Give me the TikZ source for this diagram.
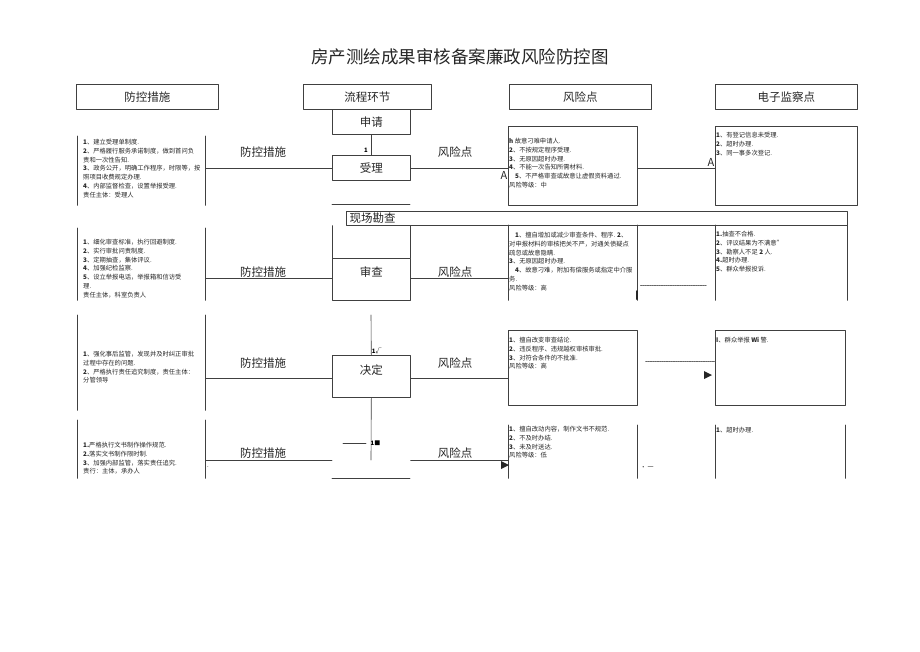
\documentclass[tikz,border=0pt]{standalone}
\usepackage{fontspec}
\setmainfont{Noto Sans CJK SC}
\begin{document}
\begin{tikzpicture}[x=1pt,y=-1pt,line join=round,line cap=round,>=stealth,
	kuang/.style={draw=black!75,line width=0.6pt,inner sep=0pt,anchor=north west},
	kong/.style={inner sep=0pt,anchor=north west},
	wenzi/.style={anchor=north west,align=left,inner sep=0pt,text=black!85,font=\fontsize{6.3}{8.8}\selectfont},
	biao/.style={font=\fontsize{11.5}{12}\selectfont,text=black!85},
	xian/.style={draw=black!75,line width=0.6pt},
	xu/.style={draw=black!60,line width=0.6pt,dash pattern=on 1.5pt off 0.8pt}]
	\useasboundingbox (0,0) rectangle (920,651);
	% title
	\node[font=\fontsize{17.5}{18}\selectfont,text=black!85] (title) at (460,57) {房产测绘成果审核备案廉政风险防控图};
	% header row
	\node[kuang,minimum width=142,minimum height=25] (hcs) at (76,84) {};
	\node[kuang,minimum width=128,minimum height=25] (hlc) at (303,84) {};
	\node[kuang,minimum width=142,minimum height=25] (hfx) at (509,84) {};
	\node[kuang,minimum width=142,minimum height=25] (hjc) at (715,84) {};
	\node[biao] at (hcs.center) {防控措施};
	\node[biao] at (hlc.center) {流程环节};
	\node[biao] at (hfx.center) {风险点};
	\node[biao] at (hjc.center) {电子监察点};
	% process column
	\node[kuang,minimum width=78,minimum height=25] (shenqing) at (332,109) {};
	\node[biao] at (shenqing.center) {申请};
	\node[kuang,minimum width=78,minimum height=25] (shouli) at (332,155) {};
	\node[biao] at (shouli.center) {受理};
	\draw[xian] (shenqing.south) -- (shouli.north) node[pos=0.75,left=0pt,font=\fontsize{6}{6}\bfseries\selectfont] {1};
	\coordinate (hx1) at (332,204);
	\coordinate (hx2) at (410,204);
	\draw[xian] (hx1) -- (hx2);
	\node[kuang,minimum width=501,minimum height=14] (kancha) at (346,211) {};
	\node[biao,anchor=west] at (kancha.west) {现场勘查};
	\node[kuang,minimum width=78,minimum height=42] (shencha) at (332,258) {};
	\node[biao] at ([yshift=7]shencha.center) {审查};
	\draw[xian] (shencha.north west) -- (shencha.north west |- kancha.south)
		(shencha.north east) -- (shencha.north east |- kancha.south);
	\coordinate (jd0) at (371,315);
	\node[kuang,minimum width=78,minimum height=42] (jueding) at (332,355) {};
	\node[biao] at ([yshift=6]jueding.center) {决定};
	\draw[xian] (jd0) -- (jueding.north) node[pos=0.9,right=-3pt,font=\fontsize{6}{6}\bfseries\selectfont] {1√};
	\coordinate (jd1) at (371,460);
	\draw[xian] (jueding.south) -- (jd1);
	\coordinate (dx1) at (343,443);
	\coordinate (dx2) at (366,443);
	\draw[xian] (dx1) -- (dx2) node[right=1pt,font=\fontsize{6}{6}\bfseries\selectfont] {1■};
	\coordinate (dd1) at (332,478);
	\coordinate (dd2) at (410,478);
	\draw[xian] (dd1) -- (dd2);
	% left column (measures)
	\node[kong,minimum width=128,minimum height=69] (cs1) at (77,136) {};
	\node[kong,minimum width=128,minimum height=72] (cs2) at (77,228) {};
	\node[kong,minimum width=128,minimum height=95] (cs3) at (77,315) {};
	\node[kong,minimum width=128,minimum height=58] (cs4) at (77,420) {};
	\foreach \b in {cs1,cs2,cs3,cs4}
		\draw[xian] (\b.north west) -- (\b.south west) (\b.north east) -- (\b.south east);
	\node[wenzi] (t1) at (83,139) {\textbf{1}、建立受理单制度.\\
		\textbf{2}、严格履行服务承诺制度，做到首问负\\
		责和一次性告知.\\
		\textbf{3}、政务公开，明确工作程序，时限等，按\\
		照项目收费规定办理.\\
		\textbf{4}、内部监督检查，设置举报受理.\\
		责任主体：受理人};
	\node[wenzi] (t2) at (83,239) {\textbf{1}、细化审查标准，执行回避制度.\\
		\textbf{2}、实行审批问责制度.\\
		\textbf{3}、定期抽查，集体评议.\\
		\textbf{4}、加强纪检监察.\\
		\textbf{5}、设立举报电话，举报箱和信访受\\
		理.\\
		责任主体，科室负责人};
	\node[wenzi] (t3) at (83,351) {\textbf{1}、强化事后监管，发现并及时纠正审批\\
		过程中存在的问题.\\
		\textbf{2}、严格执行责任追究制度，责任主体：\\
		分管领导};
	\node[wenzi] (t4) at (83,442) {\textbf{1.}严格执行文书制作操作规范.\\
		\textbf{2.}落实文书制作限时制.\\
		\textbf{3}、加强内部监管，落实责任追究.\\
		责行：主体，承办人};
	% risk column
	\node[kuang,minimum width=129,minimum height=79] (fx1) at (508,126) {};
	\node[kong,minimum width=129,minimum height=75] (fx2) at (508,225) {};
	\node[kuang,minimum width=129,minimum height=75] (fx3) at (508,330) {};
	\node[kong,minimum width=129,minimum height=53] (fx4) at (508,425) {};
	\foreach \b in {fx2,fx4}
		\draw[xian] (\b.north west) -- (\b.south west) (\b.north east) -- (\b.south east);
	\node[wenzi] (r1) at (509,138) {\textbf{h} 故意刁难申请人.\\
		\textbf{2}、不按规定程序受理.\\
		\textbf{3}、无原因超时办理.\\
		\textbf{4}、不能一次告知所需材料.\\
		\hspace*{6pt}\textbf{5}、不严格审查或故意让虚假资料通过.\\
		风险等级：中};
	\node[wenzi] (r2) at (509,232) {\hspace*{6pt}\textbf{1}、擅自增加或减少审查条件、程序. \textbf{2}、\\
		对申报材料的审核把关不严，对通关债疑点\\
		疏忽或故意隐瞒.\\
		\textbf{3}、无原因超时办理.\\
		\hspace*{6pt}\textbf{4}、故意刁难，附加有偿服务或指定中介服\\
		务.\\
		风险等级：高};
	\node[wenzi] (r3) at (509,337) {\textbf{1}、擅自改变审查结论.\\
		\textbf{2}、违反程序、违规越权审核审批.\\
		\textbf{3}、对符合条件的不批准.\\
		风险等级：高};
	\node[wenzi] (r4) at (509,426) {\textbf{1}、擅自改动内容，制作文书不规范.\\
		\textbf{2}、不及时办结.\\
		\textbf{3}、未及时送达.\\
		风险等级：低};
	% supervision column
	\node[kuang,minimum width=142,minimum height=79] (jc1) at (715,126) {};
	\node[kong,minimum width=132,minimum height=75] (jc2) at (715,225) {};
	\node[kuang,minimum width=130,minimum height=75] (jc3) at (715,330) {};
	\node[kong,minimum width=130,minimum height=53] (jc4) at (715,425) {};
	\foreach \b in {jc2,jc4}
		\draw[xian] (\b.north west) -- (\b.south west) (\b.north east) -- (\b.south east);
	\node[wenzi] (s1) at (716,132) {\textbf{1}、有登记信息未受理.\\
		\textbf{2}、超时办理.\\
		\textbf{3}、同一事多次登记.};
	\node[wenzi] (s2) at (716,231) {\textbf{1.}抽查不合格.\\
		\textbf{2}、评议结果为不满意"\\
		\textbf{3}、勘察人不足 \textbf{2} 人.\\
		\textbf{4.}超时办理.\\
		\textbf{5}、群众举报投诉.};
	\node[wenzi] (s3) at (716,337) {\textbf{I}、群众举报 \textbf{Wi} 警.};
	\node[wenzi] (s4) at (716,427) {\textbf{1}、超时办理.};
	% connectors
	\draw[xian] (cs1.east |- shouli.west) -- (shouli.west);
	\draw[xian] (shouli.east) -- (shouli.east -| fx1.west);
	\draw[xian] (fx1.east |- shouli.east) -- (jc1.west |- shouli.east);
	\draw[xian] (cs2.east |- 0,278) -- (shencha.west |- 0,278);
	\draw[xian] (shencha.east |- 0,278) -- (fx2.west |- 0,278);
	\draw[xian] (cs3.east |- 0,378) -- (jueding.west |- 0,378);
	\draw[xian] (jueding.east |- 0,378) -- (fx3.west |- 0,378);
	\draw[xian] (cs4.east |- jd1) -- (jd1 -| shencha.west);
	\draw[xian] (jd1 -| shencha.east) -- (jd1 -| fx4.west);
	\draw[xu] ([xshift=3]fx2.east |- 0,285) -- ([xshift=-8]jc2.west |- 0,285);
	\draw[xu] ([xshift=8]fx3.east |- 0,361) -- (jc3.west |- 0,361);
	\draw[line width=2pt,black!85] (fx2.east |- 0,291) -- (fx2.east |- 0,299);
	% small marks
	\fill[black!85] (704,371) -- (712,375) -- (704,379) -- cycle;
	\fill[black!85] (501,461) -- (509,465) -- (501,469) -- cycle;
	\node[font=\fontsize{11}{11}\selectfont,text=black!85] at (504,175) {A};
	\node[font=\fontsize{11}{11}\selectfont,text=black!85] at (711,162) {A};
	\node[font=\fontsize{6}{6}\selectfont,text=black!85] at (647,468) {• 一};
	\node[font=\fontsize{6}{6}\selectfont] at (208,467) {.};
	% labels on the links
	\foreach \y in {152,272,363,453} {
		\node[biao] at (263,\y) {防控措施};
		\node[biao] at (455,\y) {风险点};
	}
\end{tikzpicture}
\end{document}
